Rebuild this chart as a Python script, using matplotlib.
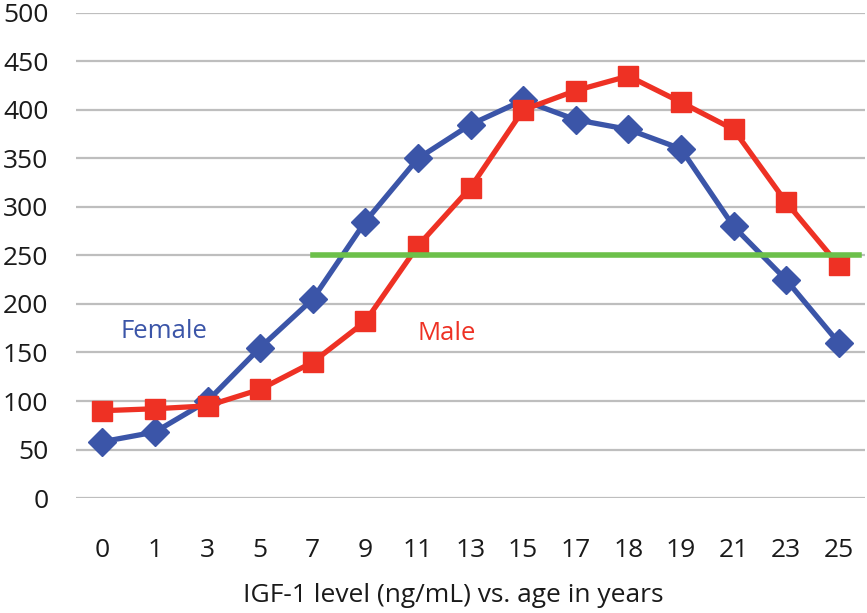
import matplotlib
matplotlib.use("Agg")
import matplotlib.pyplot as plt

ages = ["0", "1", "3", "5", "7", "9", "11", "13", "15", "17", "18", "19", "21", "23", "25"]
female = [58, 68, 100, 155, 205, 285, 350, 385, 410, 390, 380, 360, 280, 225, 160]
male = [90, 92, 95, 112, 140, 182, 260, 320, 400, 420, 435, 408, 380, 305, 240]
threshold = 250
threshold_from = "7"

blue = "#3B55A8"
red = "#EE3124"
green = "#6CC04A"

plt.rcParams['font.family'] = ['Open Sans', 'DejaVu Sans']

fig = plt.figure(figsize=(8.67, 6.13), dpi=100)
ax = fig.add_axes([0.0877, 0.1876, 0.91, 0.7912])

x = list(range(len(ages)))
ax.set_xlim(-0.5, len(ages) - 0.5)
ax.set_ylim(0, 500)
ax.set_yticks(range(0, 501, 50))
for v in range(0, 501, 50):
    ax.axhline(v, color="#BEBEBE", lw=1.6, zorder=0)

ax.plot(x, female, color=blue, lw=3.8, marker="D", ms=14.5, zorder=3)
ax.plot(x, male, color=red, lw=3.8, marker="s", ms=14.5, zorder=4)

start = ages.index(threshold_from)
ax.plot([start, len(ages) - 0.62], [threshold, threshold], color=green, lw=4, zorder=5)

ax.text(1.17, 172, "Female", color=blue, fontsize=18.5, ha="center", va="center")
ax.text(6.54, 170, "Male", color=red, fontsize=18.5, ha="center", va="center")

ax.set_xticks(x)
ax.set_xticklabels(ages)
ax.tick_params(axis="both", length=0, labelsize=19, colors="#1a1a1a")
ax.tick_params(axis="x", pad=29)
ax.tick_params(axis="y", pad=20)
for s in ax.spines.values():
    s.set_visible(False)

fig.text(453 / 867, 1 - 596 / 613, "IGF-1 level (ng/mL) vs. age in years",
         ha="center", va="center", fontsize=19, color="#1a1a1a")

fig.savefig("out.png", dpi=100)
